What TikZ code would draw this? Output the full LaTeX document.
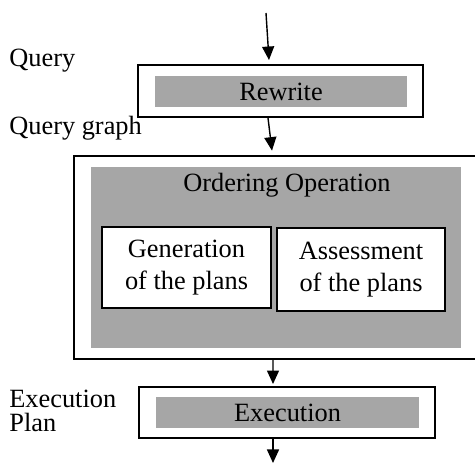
\documentclass[tikz,border=0pt]{standalone}
\usepackage{fontspec}
\setmainfont{Liberation Serif}
\usepackage{tikz}
\usetikzlibrary{arrows.meta}
\definecolor{boxgray}{RGB}{166,166,166}

\begin{document}
\begin{tikzpicture}[
			outerbox/.style={draw, line width=1.1pt, fill=white},
			graybox/.style={fill=boxgray, inner sep=0pt},
			planbox/.style={draw, line width=1pt, fill=white, align=center, inner sep=0pt},
			flow/.style={-{Triangle[width=0.24cm,length=0.27cm]}, line width=0.8pt},
			lbl/.style={anchor=base west, inner sep=0pt}
		]
		\useasboundingbox (0,0) rectangle (9.5,9.28);
		\clip (0,0) rectangle (9.5,9.28);
		\fontsize{15}{18}\selectfont

		% rewrite step
		\node[outerbox, minimum width=5.7cm, minimum height=1.04cm] (rwbox) at (5.61,7.46) {};
		\node[graybox, minimum width=5.04cm, minimum height=0.62cm] (rw) at (5.62,7.45) {Rewrite};

		% ordering step, open on the right (cut by the page edge)
		\node[minimum width=9.6cm, minimum height=4.06cm] (ordbox) at (6.28,4.13) {};
		\draw[line width=1.1pt] (ordbox.north east) -| (ordbox.south west) -- (ordbox.south east);
		\node[graybox, minimum width=7.4cm, minimum height=3.62cm] (ord) at (5.52,4.13) {};
		\node[anchor=base, inner sep=0pt] (ordtxt) at (5.74,5.44) {Ordering Operation};
		\node[planbox, minimum width=3.38cm, minimum height=1.62cm] (gen) at (3.73,3.93) {Generation\\of the plans};
		\node[planbox, minimum width=3.36cm, minimum height=1.66cm] (ass) at (7.22,3.89) {Assessment\\of the plans};

		% execution step
		\node[outerbox, minimum width=5.92cm, minimum height=1.02cm] (exbox) at (5.74,1.03) {};
		\node[graybox, minimum width=5.26cm, minimum height=0.62cm] (ex) at (5.75,1.03) {Execution};

		% labels on the left
		\node[lbl] (query) at (0.18,7.94) {Query};
		\node[lbl] (qgraph) at (0.18,6.58) {Query graph};
		\node[lbl] (explan) at (0.18,1.12) {Execution};
		\node[lbl] (explan2) at (0.18,0.64) {Plan};

		% arrows
		\coordinate (in) at (5.32,9.02);
		\coordinate (out) at (5.46,0.02);
		\draw[flow] (in) -- ([shift={(-0.23,0.08)}]rwbox.north);
		\draw[flow] ([xshift=-0.25cm]rwbox.south) -- ([shift={(-0.84,0.10)}]ordbox.north);
		\draw[flow] ([xshift=-0.82cm]ordbox.south) -- ([shift={(-0.28,0.04)}]exbox.north);
		\draw[flow] ([xshift=-0.28cm]exbox.south) -- (out);
	\end{tikzpicture}
\end{document}
